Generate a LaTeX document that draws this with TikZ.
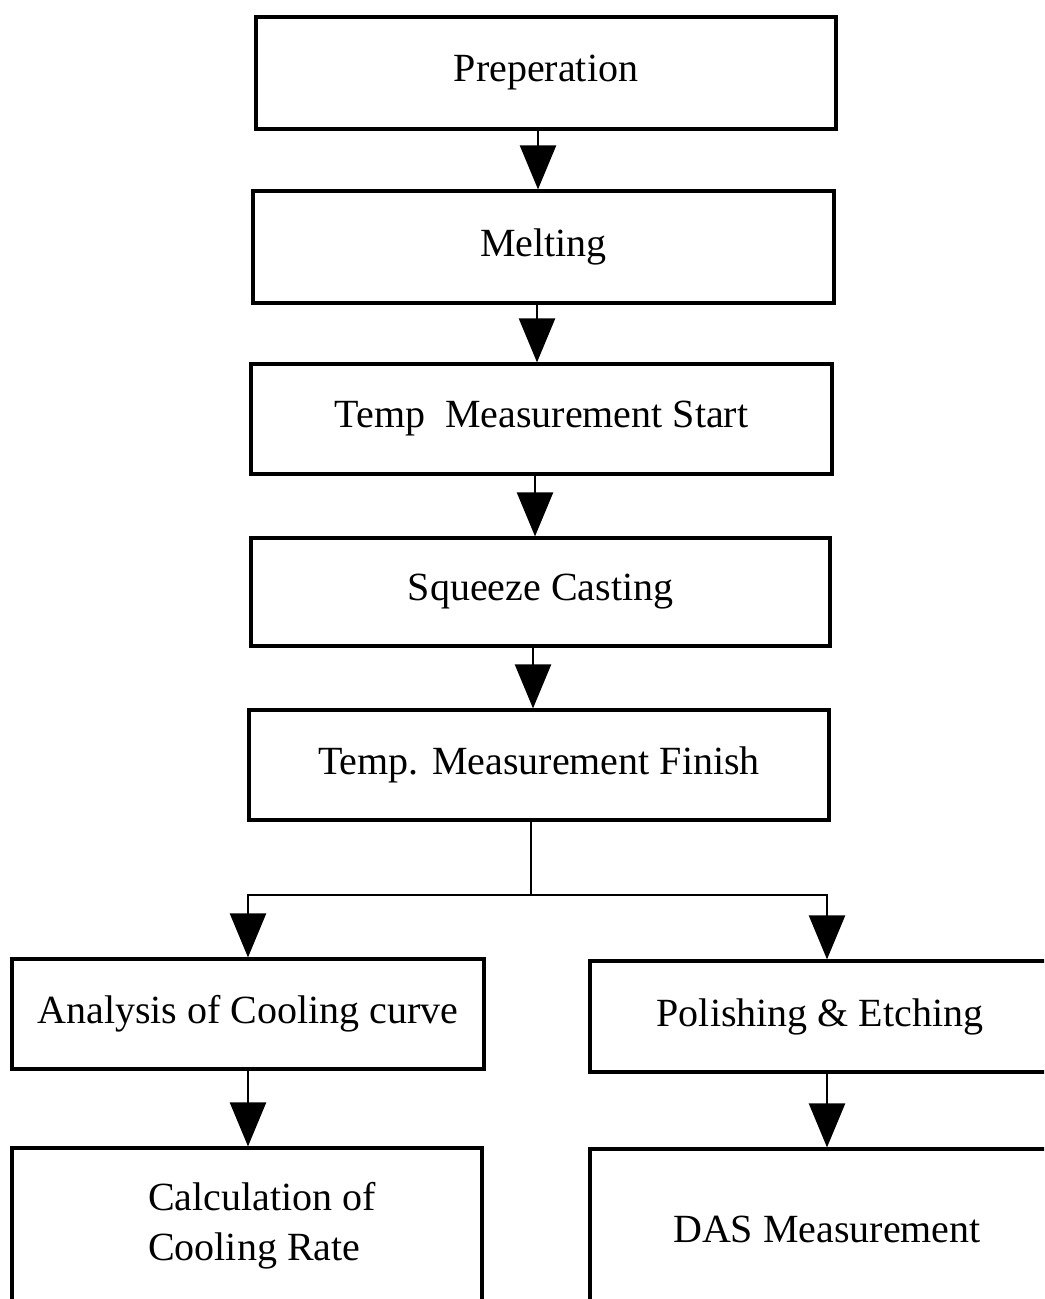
\documentclass[tikz,border=0pt]{standalone}
\usepackage{fontspec}
\setmainfont{Liberation Serif}
\usetikzlibrary{arrows.meta}
\begin{document}
\begin{tikzpicture}[x=0.5pt,y=-0.5pt,
  txt/.style={font=\fontsize{20}{25}\selectfont},
  box/.style={draw, line width=1.6pt, inner sep=0pt, align=center, txt},
  conn/.style={line width=1.2pt},
  arr/.style={line width=1.2pt, -{Triangle[length=22pt,width=18pt]}}]
\clip (0,0) rectangle (1044,1299);
\node[box, minimum width=290pt,   minimum height=56pt] (b1) at (546,73)    {Preperation};
\node[box, minimum width=290.5pt, minimum height=56pt] (b2) at (543.5,247) {Melting};
\node[box, minimum width=290.5pt, minimum height=55pt] (b3) at (541.5,419) {Temp~ Measurement Start};
\node[box, minimum width=289.5pt, minimum height=54pt] (b4) at (540.5,592) {Squeeze Casting};
\node[box, minimum width=290pt,   minimum height=55pt] (b5) at (539,765)   {Temp. Measurement Finish};
\node[box, minimum width=236pt,   minimum height=55pt] (b6) at (248,1014)  {Analysis of Cooling curve};
\node[box, minimum width=230pt,   minimum height=55.5pt] (b7) at (820,1016.5) {Polishing \& Etching};
\node[box, minimum width=235pt,   minimum height=78pt,
      label={[name=b8t, txt, align=left, xshift=7.5pt]center:Calculation of\\Cooling Rate}] (b8) at (247,1226) {};
\node[box, minimum width=230pt,   minimum height=80pt,
      label={[name=b9t, txt, xshift=3.5pt]center:DAS Measurement}] (b9) at (820,1229) {};
\coordinate (split) at (531,895);
\draw[arr] ([xshift=-4pt]b1.south) -- ([xshift=-4pt]b1.south |- b2.north);
\draw[arr] ([xshift=-3.25pt]b2.south) -- ([xshift=-3.25pt]b2.south |- b3.north);
\draw[arr] ([xshift=-3.25pt]b3.south) -- ([xshift=-3.25pt]b3.south |- b4.north);
\draw[arr] ([xshift=-3.75pt]b4.south) -- ([xshift=-3.75pt]b4.south |- b5.north);
\draw[conn] (split |- b5.south) -- (split);
\draw[arr] (split) -| (b6.north);
\draw[arr] (split) -| ([xshift=3.5pt]b7.north);
\draw[arr] (b6.south) -- (b6.south |- b8.north);
\draw[arr] ([xshift=3.5pt]b7.south) -- ([xshift=3.5pt]b7.south |- b9.north);
\end{tikzpicture}
\end{document}
